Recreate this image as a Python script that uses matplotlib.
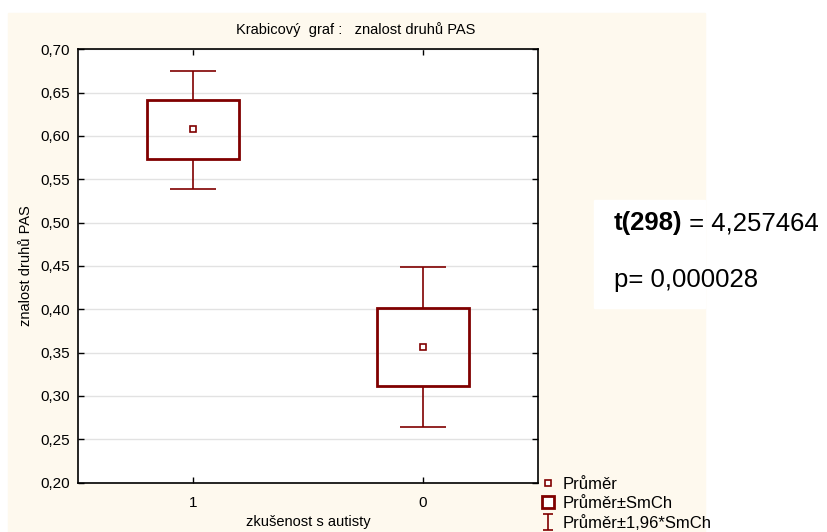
import numpy as np
import matplotlib
matplotlib.use("Agg")
import matplotlib.pyplot as plt
from matplotlib.patches import Rectangle
from matplotlib.lines import Line2D
from matplotlib.path import Path
from matplotlib.ticker import FuncFormatter

plt.rcParams["font.family"] = ["Liberation Sans", "DejaVu Sans"]

# data
groups = ["1", "0"]
means = [0.608, 0.357]
se_low = [0.573, 0.311]
se_high = [0.641, 0.402]
ci_low = [0.539, 0.264]
ci_high = [0.675, 0.449]
y_ticks = [0.20, 0.25, 0.30, 0.35, 0.40, 0.45, 0.50, 0.55, 0.60, 0.65, 0.70]

DARK_RED = "#800000"
PANEL = "#fef9ee"

fig = plt.figure(figsize=(8.28, 5.32), dpi=100)
W, H = 828, 532

# cream panel behind the chart
fig.patches.append(Rectangle((8 / W, 0), (705 - 8) / W, (532 - 13) / H,
                             transform=fig.transFigure, color=PANEL, zorder=-2))
# white box for the test result
fig.patches.append(Rectangle((594 / W, 1 - 308 / H), (705 - 594) / W, (308 - 200) / H,
                             transform=fig.transFigure, color="white", zorder=-1))

ax = fig.add_axes([78 / W, 1 - 482.6 / H, 460 / W, (482.6 - 49.3) / H])
ax.set_facecolor("white")

x = np.arange(1, len(groups) + 1)
means = np.asarray(means)
se_low = np.asarray(se_low)
se_high = np.asarray(se_high)
ci_low = np.asarray(ci_low)
ci_high = np.asarray(ci_high)

ax.bar(x, se_high - se_low, bottom=se_low, width=0.4, fill=False,
       edgecolor=DARK_RED, linewidth=2.0, zorder=3)
ax.vlines(x, se_high, ci_high, color=DARK_RED, linewidth=1.2, zorder=3)
ax.vlines(x, ci_low, se_low, color=DARK_RED, linewidth=1.2, zorder=3)
ax.hlines(ci_high, x - 0.1, x + 0.1, color=DARK_RED, linewidth=1.2, zorder=3)
ax.hlines(ci_low, x - 0.1, x + 0.1, color=DARK_RED, linewidth=1.2, zorder=3)
ax.plot(x, means, "s", markersize=5, markerfacecolor="white",
        markeredgecolor=DARK_RED, markeredgewidth=1.2, linestyle="none", zorder=4)

ax.set_xlim(0.5, len(groups) + 0.5)
ax.set_ylim(0.20, 0.70)
ax.set_xticks(x)
ax.set_xticklabels(groups)
ax.set_yticks(y_ticks)
ax.yaxis.set_major_formatter(FuncFormatter(lambda v, p: f"{v:.2f}".replace(".", ",")))
ax.tick_params(direction="in", top=True, right=True, length=4, width=1,
               labelsize=11, pad=6)
ax.tick_params(axis="x", pad=10)
ax.grid(axis="y", color="#e2e2e2", linewidth=1)
ax.set_axisbelow(True)
for sp in ax.spines.values():
    sp.set_linewidth(1.2)

ax.set_ylabel("znalost druhů PAS", fontsize=10.5, labelpad=5)
fig.text(308 / W, 1 - 522 / H, "zkušenost s autisty", fontsize=10.5,
         ha="center", va="center")
fig.text(356 / W, 1 - 30 / H, "Krabicový  graf :   znalost druhů PAS",
         ha="center", va="center", fontsize=10.5)

# legend
whisker = Path([(0, -1), (0, 1), (-0.6, 1), (0.6, 1), (-0.6, -1), (0.6, -1)],
               [Path.MOVETO, Path.LINETO, Path.MOVETO, Path.LINETO, Path.MOVETO, Path.LINETO])
handles = [
    Line2D([], [], marker="s", markersize=5, markerfacecolor="white",
           markeredgecolor=DARK_RED, markeredgewidth=1.2, linestyle="none"),
    Line2D([], [], marker="s", markersize=8.5, markerfacecolor="white",
           markeredgecolor=DARK_RED, markeredgewidth=2, linestyle="none"),
    Line2D([], [], marker=whisker, markersize=11, color=DARK_RED,
           markeredgewidth=1.2, linestyle="none"),
]
labels = ["Průměr", "Průměr±SmCh", "Průměr±1,96*SmCh"]
fig.legend(handles, labels, loc="upper left", bbox_to_anchor=(541 / W, 1 - 477 / H),
           frameon=False, fontsize=12, handlelength=0.9, handletextpad=0.4,
           labelspacing=0.24, borderpad=0, borderaxespad=0)

# t-test result
t1 = fig.text(614 / W, 1 - 223 / H, "t(298)", fontsize=18.5, fontweight="bold",
              va="center", ha="left")
fig.canvas.draw()
bb = t1.get_window_extent()
fig.text(bb.x1 / W, 1 - 223 / H, " = 4,257464", fontsize=18.5,
         va="center", ha="left")
fig.text(614 / W, 1 - 280 / H, "p= 0,000028", fontsize=18.5, va="center", ha="left")

fig.savefig("out.png", dpi=100, facecolor="white")
